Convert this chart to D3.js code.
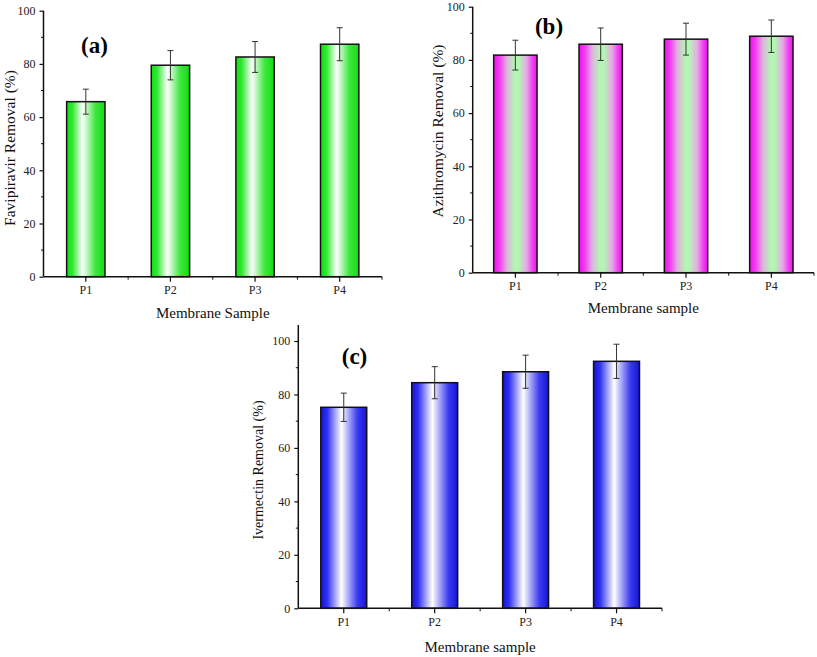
<!DOCTYPE html>
<html>
<head>
<meta charset="utf-8">
<script src="https://cdn.jsdelivr.net/npm/d3@7"></script>
<style>
  html, body { margin: 0; padding: 0; background: #fff; }
  svg { display: block; font-family: "Liberation Serif", "Times New Roman", serif; }
</style>
</head>
<body>
<svg id="chart" width="817" height="657"></svg>
<script>
// ---- data ----
const categories = ["P1", "P2", "P3", "P4"];
const yTicks = [0, 20, 40, 60, 80, 100];
const yMinorTicks = [10, 30, 50, 70, 90];

const favipiravir = [65.8, 79.5, 82.6, 87.4];
const favipiravirErr = [4.7, 5.5, 5.8, 6.2];

const azithromycin = [81.8, 85.9, 87.8, 88.9];
const azithromycinErr = [5.6, 6.1, 6.0, 6.1];

const ivermectin = [75.2, 84.4, 88.5, 92.4];
const ivermectinErr = [5.3, 6.0, 6.2, 6.4];

const panelLabels = ["(a)", "(b)", "(c)"];
const yTitles = ["Favipiravir Removal (%)", "Azithromycin Removal (%)", "Ivermectin Removal (%)"];
const xTitles = ["Membrane Sample", "Membrane sample", "Membrane sample"];

const svg = d3.select("#chart");
const defs = svg.append("defs");
const FONT = '"Liberation Serif", "Times New Roman", serif';

function gradient(id, stops) {
  const g = defs.append("linearGradient").attr("id", id)
    .attr("x1", "0%").attr("x2", "100%").attr("y1", "0%").attr("y2", "0%");
  stops.forEach(s => g.append("stop").attr("offset", s[0]).attr("stop-color", s[1]));
}
gradient("gGreen", [["0%", "#12e012"], ["15%", "#30e830"], ["42%", "#ffffff"], ["75%", "#3ee83e"], ["100%", "#10dd10"]]);
gradient("gPink", [["0%", "#f010f0"], ["14%", "#f040f0"], ["30%", "#e0b0e0"], ["48%", "#b4f5b4"], ["58%", "#b4f5b4"], ["76%", "#e8a8e8"], ["90%", "#f040f0"], ["100%", "#ee10ee"]]);
gradient("gBlue", [["0%", "#1414d8"], ["14%", "#3030f0"], ["45%", "#ffffff"], ["80%", "#3a3af0"], ["100%", "#1414d8"]]);

function drawPanel(cfg) {
  const g = svg.append("g");
  const p = 1 - cfg.barFrac;
  const x = d3.scaleBand().domain(categories).range([cfg.x0, cfg.x1])
    .paddingInner(p).paddingOuter(p / 2);
  const step = x.step(), bw = x.bandwidth();
  const y = d3.scaleLinear().domain([0, cfg.yMax]).range([cfg.yBottom, cfg.yBottom - cfg.pxPerUnit * cfg.yMax]);

  // bars
  g.selectAll("rect.bar").data(categories).enter().append("rect")
    .attr("x", c => x(c)).attr("width", bw)
    .attr("y", (c, i) => y(cfg.values[i]))
    .attr("height", (c, i) => y(0) - y(cfg.values[i]))
    .attr("fill", `url(#${cfg.grad})`)
    .attr("stroke", "#111").attr("stroke-width", 1.5);

  // error bars
  const eb = g.selectAll("g.err").data(categories).enter().append("g")
    .attr("stroke", "#333").attr("stroke-width", 1);
  eb.append("line")
    .attr("x1", c => x(c) + bw / 2).attr("x2", c => x(c) + bw / 2)
    .attr("y1", (c, i) => y(cfg.values[i] + cfg.errs[i]))
    .attr("y2", (c, i) => y(cfg.values[i] - cfg.errs[i]));
  [1, -1].forEach(s => {
    eb.append("line")
      .attr("x1", c => x(c) + bw / 2 - 3).attr("x2", c => x(c) + bw / 2 + 3)
      .attr("y1", (c, i) => y(cfg.values[i] + s * cfg.errs[i]))
      .attr("y2", (c, i) => y(cfg.values[i] + s * cfg.errs[i]));
  });

  // y axis
  const ya = g.append("g").attr("transform", `translate(${cfg.x0},0)`)
    .call(d3.axisLeft(y).tickValues(yTicks).tickSize(4).tickPadding(4).tickFormat(d3.format("d")));
  ya.attr("font-family", FONT).attr("font-size", 12);
  ya.select(".domain").attr("d", `M0,${y(cfg.yMax)}V${y(0)}`).attr("stroke", "#111").attr("stroke-width", 1.5);
  ya.selectAll(".tick line").attr("stroke", "#111").attr("stroke-width", 1.2);
  ya.selectAll(".tick text").attr("fill", "#222");
  ya.selectAll("line.minor").data(yMinorTicks).enter().append("line").attr("class", "minor")
    .attr("x1", 0).attr("x2", -2.5).attr("y1", d => y(d)).attr("y2", d => y(d))
    .attr("stroke", "#111").attr("stroke-width", 1);

  // x axis
  const xa = g.append("g").attr("transform", `translate(0,${cfg.yBottom})`)
    .call(d3.axisBottom(x).tickSize(5).tickPadding(4));
  xa.attr("font-family", FONT).attr("font-size", 12);
  xa.select(".domain").attr("d", `M${cfg.x0},0H${cfg.x1}`).attr("stroke", "#111").attr("stroke-width", 1.5);
  xa.selectAll(".tick line").attr("stroke", "#111").attr("stroke-width", 1.2);
  xa.selectAll(".tick text").attr("fill", "#222");
  xa.selectAll("line.minor").data(categories).enter().append("line").attr("class", "minor")
    .attr("x1", c => x(c) + bw / 2 + step / 2).attr("x2", c => x(c) + bw / 2 + step / 2)
    .attr("y1", 0).attr("y2", 3)
    .attr("stroke", "#111").attr("stroke-width", 1);

  // titles
  g.append("text").attr("x", (cfg.x0 + cfg.x1) / 2).attr("y", cfg.xTitleY)
    .attr("text-anchor", "middle").attr("font-size", 15).attr("fill", "#111").text(cfg.xTitle);
  g.append("text").attr("transform", `translate(${cfg.yTitleX},${cfg.yTitleY}) rotate(-90)`)
    .attr("text-anchor", "middle").attr("dominant-baseline", "central")
    .attr("font-size", cfg.yTitleSize).attr("fill", "#111").text(cfg.yTitle);
  g.append("text").attr("x", cfg.labelX).attr("y", cfg.labelY)
    .attr("text-anchor", "middle").attr("dominant-baseline", "central")
    .attr("font-size", 23).attr("font-weight", "bold").attr("fill", "#000").text(cfg.label);
}

drawPanel({
  values: favipiravir, errs: favipiravirErr, grad: "gGreen", barFrac: 0.453,
  x0: 43.5, x1: 382, yBottom: 276.7, pxPerUnit: 2.66, yMax: 100,
  xTitle: xTitles[0], xTitleY: 318, yTitle: yTitles[0], yTitleX: 9, yTitleY: 148, yTitleSize: 15.5,
  label: panelLabels[0], labelX: 94.5, labelY: 45
});
drawPanel({
  values: azithromycin, errs: azithromycinErr, grad: "gPink", barFrac: 0.508,
  x0: 472.7, x1: 814, yBottom: 272.7, pxPerUnit: 2.66, yMax: 100,
  xTitle: xTitles[1], xTitleY: 313, yTitle: yTitles[1], yTitleX: 437, yTitleY: 131, yTitleSize: 15.5,
  label: panelLabels[1], labelX: 549, labelY: 26
});
drawPanel({
  values: ivermectin, errs: ivermectinErr, grad: "gBlue", barFrac: 0.505,
  x0: 298.3, x1: 662, yBottom: 608.3, pxPerUnit: 2.673, yMax: 106,
  xTitle: xTitles[2], xTitleY: 652, yTitle: yTitles[2], yTitleX: 258, yTitleY: 470, yTitleSize: 14,
  label: panelLabels[2], labelX: 354.5, labelY: 356
});
</script>
</body>
</html>
